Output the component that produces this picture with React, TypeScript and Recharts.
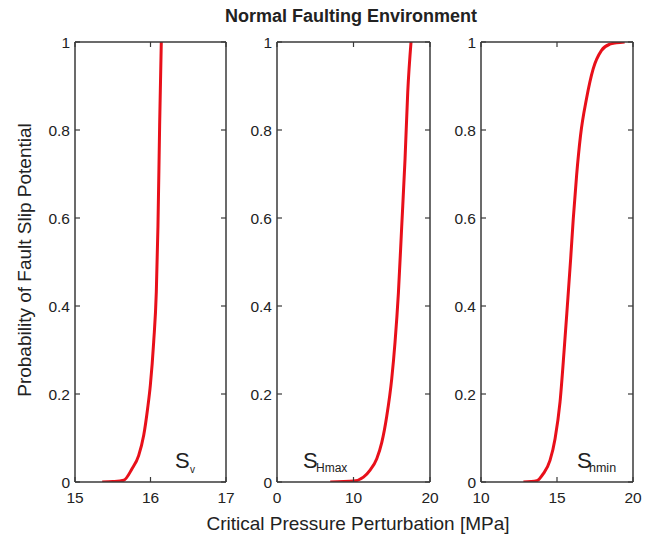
import { LineChart, Line, XAxis, YAxis } from 'recharts'

// probability axis (shared by all three panels)
const probTicks = [0, 0.2, 0.4, 0.6, 0.8, 1]

// S_v
const svPressure = [15.36, 15.5, 15.645, 15.755, 15.843, 15.91, 15.962, 15.998, 16.042, 16.077, 16.099, 16.121, 16.143]
const svProb = [0, 0.001, 0.004, 0.03, 0.06, 0.106, 0.167, 0.22, 0.318, 0.432, 0.583, 0.81, 1.0]
const svTicks = [15, 16, 17]

// S_Hmax
const shmaxPressure = [6.96, 10.0, 11.3, 12.17, 13.04, 13.7, 14.35, 15.0, 15.43, 15.87, 16.3, 16.74, 17.09, 17.52]
const shmaxProb = [0, 0.002, 0.011, 0.027, 0.053, 0.09, 0.15, 0.235, 0.318, 0.43, 0.58, 0.735, 0.886, 1.0]
const shmaxTicks = [0, 10, 20]

// S_hmin
const shminPressure = [12.79, 13.67, 14.1, 14.54, 14.87, 15.2, 15.46, 15.68, 15.9, 16.07, 16.29, 16.55, 16.94, 17.38, 17.93, 18.47, 18.91, 19.45]
const shminProb = [0, 0.003, 0.019, 0.049, 0.098, 0.182, 0.295, 0.4, 0.508, 0.598, 0.697, 0.788, 0.871, 0.939, 0.981, 0.995, 0.998, 1.0]
const shminTicks = [10, 15, 20]

const FONT = '"Liberation Sans", Arial, sans-serif'
const FRAME = '#3a3a3a'
const RED = '#e8101a'
const TEXT = '#222'

const toRows = (xs: number[], ps: number[]) => xs.map((x, i) => ({ x, p: ps[i] }))

// tick lines only, no label
const NoLabel = () => <g />

interface PanelProps {
  left: number
  plotWidth: number
  rows: { x: number; p: number }[]
  ticks: number[]
  rightPad: number
}

function Panel({ left, plotWidth, rows, ticks, rightPad }: PanelProps) {
  const yw = 40
  const domain: [number, number] = [ticks[0], ticks[ticks.length - 1]]
  const frame = { stroke: FRAME, strokeWidth: 1.5 }
  const tickStyle = { fill: TEXT, fontSize: 15.5, fontFamily: FONT }
  const inward = { stroke: FRAME, strokeWidth: 1.2 }
  return (
    <div style={{ position: 'absolute', left: left - yw, top: 0 }}>
      <LineChart
        width={plotWidth + yw + rightPad}
        height={534}
        data={rows}
        margin={{ top: 42, right: rightPad, bottom: 22, left: 0 }}
      >
        <XAxis xAxisId='b' dataKey='x' type='number' domain={domain} ticks={ticks} allowDataOverflow
          height={30} tickLine={false} tickSize={0} tickMargin={10} axisLine={frame} tick={tickStyle} />
        <XAxis xAxisId='bt' dataKey='x' type='number' domain={domain} ticks={ticks} allowDataOverflow
          mirror tick={NoLabel} axisLine={false} tickSize={5} tickLine={inward} />
        <XAxis xAxisId='t' dataKey='x' orientation='top' type='number' domain={domain} ticks={ticks} allowDataOverflow
          mirror tick={NoLabel} axisLine={frame} tickSize={5} tickLine={inward} />
        <YAxis yAxisId='l' type='number' domain={[0, 1]} ticks={probTicks} allowDataOverflow width={yw}
          tickLine={false} tickSize={0} tickMargin={5} axisLine={frame} tick={tickStyle} />
        <YAxis yAxisId='lt' type='number' domain={[0, 1]} ticks={probTicks} allowDataOverflow
          mirror tick={NoLabel} axisLine={false} tickSize={5} tickLine={inward} />
        <YAxis yAxisId='r' orientation='right' type='number' domain={[0, 1]} ticks={probTicks} allowDataOverflow
          mirror tick={NoLabel} axisLine={frame} tickSize={5} tickLine={inward} />
        <Line xAxisId='b' yAxisId='l' dataKey='p' type='monotone' stroke={RED} strokeWidth={3}
          dot={false} isAnimationActive={false} />
      </LineChart>
    </div>
  )
}

export default function App() {
  return (
    <div style={{ position: 'absolute', left: 0, top: 0, width: 651, height: 534, background: '#fff', fontFamily: FONT }}>
      <Panel left={75} plotWidth={151} rows={toRows(svPressure, svProb)} ticks={svTicks} rightPad={12} />
      <Panel left={277} plotWidth={153} rows={toRows(shmaxPressure, shmaxProb)} ticks={shmaxTicks} rightPad={12} />
      <Panel left={481} plotWidth={152} rows={toRows(shminPressure, shminProb)} ticks={shminTicks} rightPad={17} />
      <svg width={651} height={534} style={{ position: 'absolute', left: 0, top: 0, pointerEvents: 'none' }}>
        <text x={351} y={16} textAnchor='middle' dominantBaseline='central' fontSize={18} fontWeight='bold' fill={TEXT} fontFamily={FONT}>
          Normal Faulting Environment
        </text>
        <text x={24} y={260} transform='rotate(-90 24 260)' textAnchor='middle' dominantBaseline='central' fontSize={19} fill={TEXT} fontFamily={FONT}>
          Probability of Fault Slip Potential
        </text>
        <text x={358} y={523} textAnchor='middle' dominantBaseline='central' fontSize={19} fill={TEXT} fontFamily={FONT}>
          Critical Pressure Perturbation [MPa]
        </text>
        <text x={175} y={468} fontSize={22} fill={TEXT} fontFamily={FONT}>S</text>
        <text x={190} y={473} fontSize={10} fill={TEXT} fontFamily={FONT}>v</text>
        <text x={303} y={468} fontSize={22} fill={TEXT} fontFamily={FONT}>S</text>
        <text x={316} y={472} fontSize={12} fill={TEXT} fontFamily={FONT}>Hmax</text>
        <text x={577} y={468} fontSize={22} fill={TEXT} fontFamily={FONT}>S</text>
        <text x={589} y={472} fontSize={12.5} fill={TEXT} fontFamily={FONT}>hmin</text>
      </svg>
    </div>
  )
}
